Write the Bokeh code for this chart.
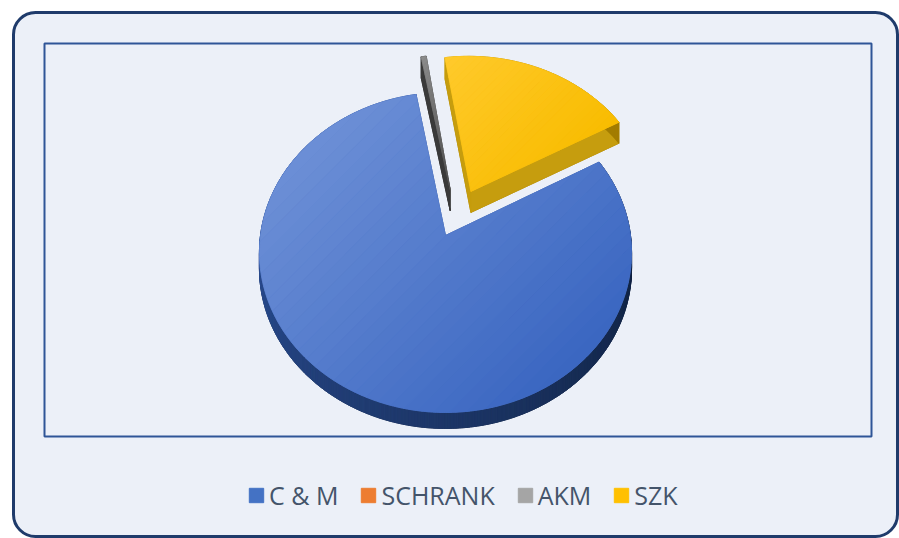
import numpy as np
from bokeh.plotting import figure
from bokeh.models import Range1d, BoxAnnotation, Legend, LegendItem, ColumnDataSource
from bokeh.embed import file_html
from bokeh.resources import INLINE

# ---------------- data ----------------
categories = ["C & M", "SCHRANK", "AKM", "SZK"]
shares = [80.3, 0.0, 0.5, 19.2]

# ---------------- style ----------------
legend_colors = ["#4472C4", "#ED7D31", "#A5A5A5", "#FFC000"]
top_light = ["#6C8FD6", "#F39A5C", "#8C8C8C", "#FFCA2C"]
top_dark = ["#3A66C1", "#D96A1E", "#4A4A4A", "#F8BC00"]
side_light = ["#2A4C90", "#A4541C", "#3A3A3A", "#C69D0E"]
side_dark = ["#112240", "#6E3610", "#222222", "#A27C00"]
explode = [0.0, 0.0, 0.30, 0.32]
explode_dir = [None, None, 5.0, None]   # None -> along slice bisector
depth_px = [16, 16, 21, 21]
first_slice_angle = 60.8  # degrees, clockwise from 12 o'clock

W, H = 899, 538
CX, CY = 445.0, 235.0          # projected pie centre (px, y down)
RX, RY, PERSP = 185.0, 158.2, 0.106


def hex2rgb(h):
    h = h.lstrip("#")
    return np.array([int(h[i:i + 2], 16) for i in (0, 2, 4)], dtype=float)


def lerp_color(c1, c2, t):
    t = float(np.clip(t, 0.0, 1.0))
    c = hex2rgb(c1) * (1 - t) + hex2rgb(c2) * t
    return "#%02X%02X%02X" % tuple(int(round(x)) for x in c)


def proj(u, v):
    d = 1.0 - PERSP * v
    return CX + RX * u / d, H - (CY + RY * v / d)


def clip_half(poly, n, c):
    """keep part of polygon with n.p <= c"""
    out = []
    m = len(poly)
    for i in range(m):
        P = poly[i]
        Q = poly[(i + 1) % m]
        dp = n[0] * P[0] + n[1] * P[1] - c
        dq = n[0] * Q[0] + n[1] * Q[1] - c
        if dp <= 0:
            out.append(P)
        if (dp <= 0) != (dq <= 0):
            t = dp / (dp - dq)
            out.append((P[0] + t * (Q[0] - P[0]), P[1] + t * (Q[1] - P[1])))
    return out


p = figure(width=W, height=H, x_range=Range1d(0, W), y_range=Range1d(0, H),
           output_backend="svg", toolbar_location=None, min_border=0,
           x_axis_type=None, y_axis_type=None,
           border_fill_color="white", background_fill_color="white",
           outline_line_color=None)
p.grid.visible = False

outer = BoxAnnotation(left=13, right=897, top=H - 12, bottom=H - 536,
                      fill_color="#ECF0F8", fill_alpha=1.0,
                      line_color="#1F3B6B", line_width=3, line_alpha=1.0,
                      border_radius=22, level="underlay")
inner = BoxAnnotation(left=44, right=871, top=H - 43, bottom=H - 436,
                      fill_alpha=0.0, line_color="#2F5597", line_width=2,
                      line_alpha=1.0, level="underlay")
p.add_layout(outer)
p.add_layout(inner)

# ---------------- slices ----------------
total = float(sum(shares))
slices = []
start = first_slice_angle
for i, s in enumerate(shares):
    span = s / total * 360.0
    slices.append((i, start, start + span))
    start += span

# draw far slices first
order = sorted([sl for sl in slices if sl[2] > sl[1]],
               key=lambda sl: -np.cos(np.radians((sl[1] + sl[2]) / 2)))

for i, a0, a1 in order:
    mid_deg = (a0 + a1) / 2 if explode_dir[i] is None else explode_dir[i]
    mid = np.radians(mid_deg)
    eu, ev = explode[i] * np.sin(mid), -explode[i] * np.cos(mid)
    n = max(3, int((a1 - a0) * 2))
    phis = np.linspace(a0, a1, n)
    rad = np.radians(phis)
    us = eu + np.sin(rad)
    vs = ev - np.cos(rad)
    vert = proj(eu, ev)
    arc = [proj(u, v) for u, v in zip(us, vs)]
    top = [vert] + arc
    D = depth_px[i]

    xs, ys, cols = [], [], []
    xs.append([q[0] for q in top])
    ys.append([q[1] - D for q in top])
    cols.append(side_dark[i])

    def add_quad(P, Q, col):
        xs.append([P[0], Q[0], Q[0], P[0]])
        ys.append([P[1], Q[1], Q[1] - D, P[1] - D])
        cols.append(col)

    add_quad(vert, arc[0], side_light[i])
    add_quad(arc[-1], vert, side_light[i])
    for k in range(len(arc) - 1):
        ph = ((phis[k] + phis[k + 1]) / 2) % 360
        t = (ph - 90) / 180.0
        add_quad(arc[k], arc[k + 1], lerp_color(side_dark[i], side_light[i], t))

    src = ColumnDataSource(dict(xs=xs, ys=ys, c=cols))
    p.patches("xs", "ys", source=src, fill_color="c", line_color="c", line_width=0.8)

    svals = [q[0] - q[1] for q in top]
    smin, smax = min(svals), max(svals)
    midc = lerp_color(top_light[i], top_dark[i], 0.5)
    p.patch([q[0] for q in top], [q[1] for q in top],
            fill_color=midc, line_color=midc, line_width=0.6)
    nb = 30
    bx, by, bc = [], [], []
    edges = np.linspace(smin, smax, nb + 1)
    for b in range(nb):
        poly = clip_half(top, (1.0, -1.0), edges[b + 1])
        poly = clip_half(poly, (-1.0, 1.0), -edges[b]) if poly else []
        if len(poly) >= 3:
            bx.append([q[0] for q in poly])
            by.append([q[1] for q in poly])
            bc.append(lerp_color(top_light[i], top_dark[i], (b + 0.5) / nb))
    if bx:
        bsrc = ColumnDataSource(dict(xs=bx, ys=by, c=bc))
        p.patches("xs", "ys", source=bsrc, fill_color="c", line_color="c", line_width=0.6)

# ---------------- legend ----------------
nan = float("nan")
items = []
for cat, col in zip(categories, legend_colors):
    r = p.quad(left=[nan], right=[nan], top=[nan], bottom=[nan],
               fill_color=col, line_color=col)
    items.append(LegendItem(label=cat, renderers=[r]))

legend = Legend(items=items, orientation="horizontal", location=(247, 26),
                padding=0, margin=0, spacing=21, label_standoff=4,
                glyph_width=18, glyph_height=18,
                label_text_font="Open Sans", label_text_font_size="25px",
                label_text_color="#44546A",
                border_line_alpha=0.0, background_fill_alpha=0.0)
p.add_layout(legend)

open("out.html", "w").write(file_html(p, INLINE))
